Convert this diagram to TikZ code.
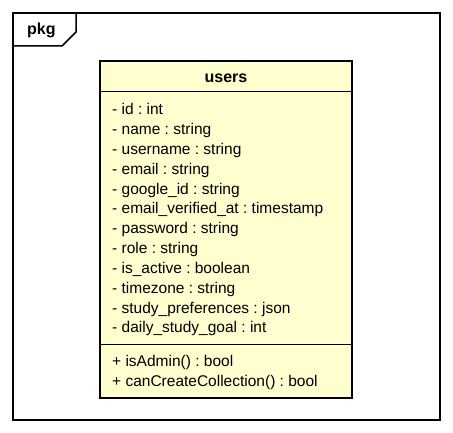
\documentclass[tikz,border=0pt]{standalone}
\usepackage{fontspec}
\setmainfont{Liberation Sans}
\usetikzlibrary{calc}
\usepackage{xcolor}
\definecolor{classbg}{HTML}{FEFECE}
\frenchspacing
\newcommand{\field}[3] % name, baseline y in px, text
{
	\node[anchor=base west, inner sep=0pt] (#1) at (112,#2) {#3};
}

\begin{document}
\begin{tikzpicture}[x=1pt, y=-1pt, every node/.style={font=\fontsize{15.5}{18}\selectfont}]
	% canvas 453 x 433 px, y grows downwards
	\useasboundingbox (0,0) rectangle (453,433);
	% package frame with tab
	\draw[line width=1.5pt] (13,13) rectangle (440,420);
	\draw[line width=1.5pt] (13,46) -- (62,46) -- (76,32) -- (76,13);
	\node[anchor=base west, inner sep=0pt, font=\bfseries\fontsize{16}{18}\selectfont] (pkg) at (27,35) {pkg};
	% class box
	\draw[line width=2pt, fill=classbg] (100,61.5) rectangle (352,398);
	\draw[line width=1pt] (100,91.5) -- (352,91.5);
	\draw[line width=1pt] (100,344) -- (352,344);
	\node[anchor=base, inner sep=0pt, font=\bfseries\fontsize{16}{18}\selectfont] (users) at (226,83) {users};
	% attributes
	\field{id}{115}{- id : int};
	\field{name}{134.8}{- name : string};
	\field{username}{154.6}{- username : string};
	\field{email}{174.4}{- email : string};
	\field{googleid}{194.2}{- google\_id : string};
	\field{verified}{214}{- email\_verified\_at : timestamp};
	\field{password}{233.8}{- password : string};
	\field{role}{253.6}{- role : string};
	\field{active}{273.4}{- is\_active : boolean};
	\field{timezone}{293.2}{- timezone : string};
	\field{prefs}{313}{- study\_preferences : json};
	\field{goal}{332.8}{- daily\_study\_goal : int};
	% methods
	\field{isadmin}{366.5}{+ isAdmin() : bool};
	\field{cancreate}{386.5}{+ canCreateCollection() : bool};
\end{tikzpicture}
\end{document}
